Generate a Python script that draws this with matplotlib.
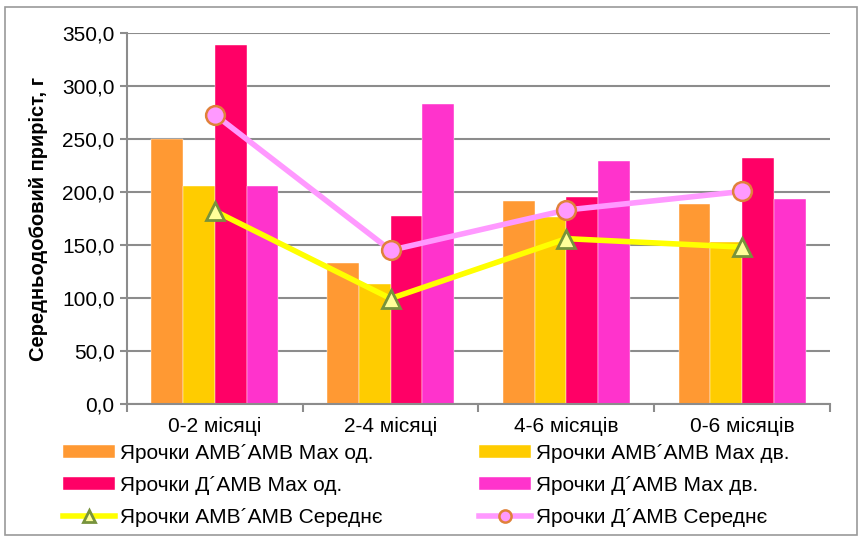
import matplotlib
matplotlib.use("Agg")
import matplotlib.pyplot as plt
import numpy as np
from matplotlib.patches import Rectangle

plt.rcParams['font.family'] = ['Liberation Sans', 'DejaVu Sans']

categories = ["0-2 місяці", "2-4 місяці", "4-6 місяців", "0-6 місяців"]

amb_max_od = [250.0, 133.0, 191.5, 189.0]
amb_max_dv = [206.0, 113.0, 176.0, 153.0]
d_max_od = [338.5, 177.5, 195.0, 232.0]
d_max_dv = [206.0, 283.0, 229.0, 193.0]
amb_mean = [182.0, 99.5, 156.0, 148.0]
d_mean = [273.0, 145.0, 183.0, 200.5]

labels = [
    "Ярочки АМВ´АМВ Мах од.",
    "Ярочки АМВ´АМВ Мах дв.",
    "Ярочки Д´АМВ Мах од.",
    "Ярочки Д´АМВ Мах дв.",
    "Ярочки АМВ´АМВ Середнє",
    "Ярочки Д´АМВ Середнє",
]
yticks = [0, 50, 100, 150, 200, 250, 300, 350]

W, H = 859, 536
FS = 15
fig = plt.figure(figsize=(W / 100, H / 100), dpi=100)
ax = fig.add_axes([127 / W, 1 - 404 / H, (830 - 127) / W, (404 - 33) / H])

x = np.arange(len(categories))
bw = 0.181
bar_colors = ["#FF9933", "#FFCC00", "#FF0066", "#FF33CC"]
series = [amb_max_od, amb_max_dv, d_max_od, d_max_dv]
bars = []
for i, (vals, c) in enumerate(zip(series, bar_colors)):
    b = ax.bar(x + (i - 1.5) * bw, vals, width=bw, color=c, zorder=2,
               edgecolor="white", linewidth=0.3)
    bars.append(b)

l1, = ax.plot(x, amb_mean, color="#FFFF00", lw=4, marker="^", markersize=13,
              markerfacecolor="#FFFF99", markeredgecolor="#77933C",
              markeredgewidth=2, zorder=4)
l2, = ax.plot(x, d_mean, color="#FF99FF", lw=4, marker="o", markersize=13.5,
              markerfacecolor="#FF99FF", markeredgecolor="#E0813A",
              markeredgewidth=1.8, zorder=5)

ax.set_xlim(-0.5, len(categories) - 0.5)
ax.set_ylim(0, 350)
ax.set_yticks(yticks)
ax.set_yticklabels([f"{v:.1f}".replace(".", ",") for v in yticks], fontsize=FS)
ax.yaxis.grid(True, color="#8C8C8C", lw=1.5, zorder=0)
ax.set_axisbelow(True)

ax.set_xticks(np.arange(-0.5, len(categories), 1.0))
ax.set_xticklabels([])
ax.set_xticks(x, minor=True)
ax.set_xticklabels(categories, minor=True, fontsize=FS)
ax.tick_params(axis="x", which="minor", length=0, pad=9)
ax.tick_params(axis="x", which="major", length=6, width=1.5, color="#8C8C8C", direction="out")
ax.tick_params(axis="y", length=5, width=1.5, color="#8C8C8C", direction="out", pad=4)

for s in ["top", "right"]:
    ax.spines[s].set_visible(False)
for s in ["left", "bottom"]:
    ax.spines[s].set_color("#8C8C8C")
    ax.spines[s].set_linewidth(1.5)

ax.set_ylabel("Середньодобовий приріст, г", fontsize=14.5, fontweight="bold", labelpad=10)

handles = [bars[0], bars[2], l1, bars[1], bars[3], l2]
hlabels = [labels[0], labels[2], labels[4], labels[1], labels[3], labels[5]]
fig.legend(handles, hlabels, loc="upper left", bbox_to_anchor=(63 / W, 1 - 444 / H),
           ncol=2, frameon=False, fontsize=FS, handlelength=2.5,
           handletextpad=0.25, columnspacing=4.6, labelspacing=0.62,
           borderpad=0, borderaxespad=0, handleheight=0.6, markerscale=0.65)

fig.patches.append(Rectangle((5 / W, 1 / H), (857 - 5) / W, (529 - 1) / H,
                             transform=fig.transFigure, fill=False,
                             edgecolor="#9A9A9A", lw=1.2))

fig.savefig("out.png", dpi=100)
